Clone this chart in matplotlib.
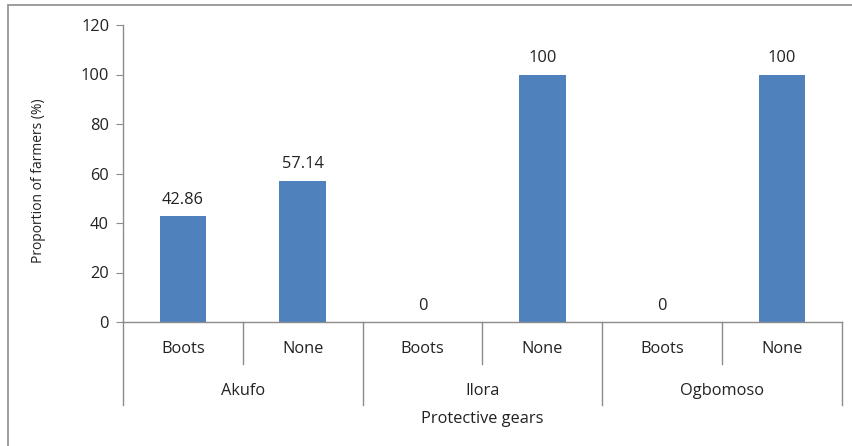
import matplotlib.pyplot as plt
import matplotlib.transforms as mtransforms
from matplotlib.patches import Rectangle

plt.rcParams['font.family'] = ['Open Sans', 'DejaVu Sans']

# data
regions = ['Akufo', 'Ilora', 'Ogbomoso']
gears = ['Boots', 'None']
values = [42.86, 57.14, 0, 100, 0, 100]
value_labels = ['42.86', '57.14', '0', '100', '0', '100']

W, H = 853, 446
fig = plt.figure(figsize=(W / 100, H / 100), dpi=100)

# outer chart border (only left/top visible in reference)
fig.patches.append(Rectangle((8 / W, -0.1), 1.2, 1 - 5 / H + 0.1, transform=fig.transFigure,
                             fill=False, edgecolor='#8c8c8c', linewidth=1.2))

ax = fig.add_axes([123 / W, 1 - 322 / H, (842 - 123) / W, (322 - 25) / H])

bar_color = '#4f81bd'
grey = '#8c8c8c'
txt = '#222222'
fs = 11.8
xs = list(range(len(values)))
ax.bar(xs, values, width=0.39, color=bar_color)

for x, v, lab in zip(xs, values, value_labels):
    ax.annotate(lab, (x, v), xytext=(0, 6), textcoords='offset points',
                ha='center', va='bottom', fontsize=fs, color=txt)

ax.set_xlim(-0.5, len(values) - 0.5)
ax.set_ylim(0, 120)
ax.set_yticks(range(0, 121, 20))
ax.tick_params(axis='y', length=5, color=grey, labelsize=fs, labelcolor=txt, pad=5)
ax.set_xticks([])
for s in ['top', 'right']:
    ax.spines[s].set_visible(False)
for s in ['left', 'bottom']:
    ax.spines[s].set_color(grey)
    ax.spines[s].set_linewidth(1.0)

ax.set_ylabel('Proportion of farmers (%)', fontsize=10, color=txt)
ax.yaxis.set_label_coords((46 - 123) / (842 - 123), (322 - 181) / (322 - 25))

# multi-level category axis
trans = mtransforms.blended_transform_factory(ax.transData, ax.transAxes)
px = 1.0 / (322 - 25)  # one pixel in axes fraction
y_inner = -(364 - 322) * px
y_outer = -(405 - 322) * px

for i in range(len(values) + 1):
    xb = i - 0.5
    ybot = y_outer if i % 2 == 0 else y_inner
    ax.plot([xb, xb], [0, ybot], transform=trans, color=grey, lw=1.0, clip_on=False)

for i, x in enumerate(xs):
    ax.text(x, -(349 - 322) * px, gears[i % 2], transform=trans, ha='center', va='center',
            fontsize=fs, color=txt)

for j, r in enumerate(regions):
    ax.text(2 * j + 0.5, -(391 - 322) * px, r, transform=trans, ha='center', va='center',
            fontsize=fs, color=txt)

ax.text(2.5, -(419 - 322) * px, 'Protective gears', transform=trans, ha='center', va='center',
        fontsize=fs, color=txt)

fig.savefig('out.png', dpi=100)
